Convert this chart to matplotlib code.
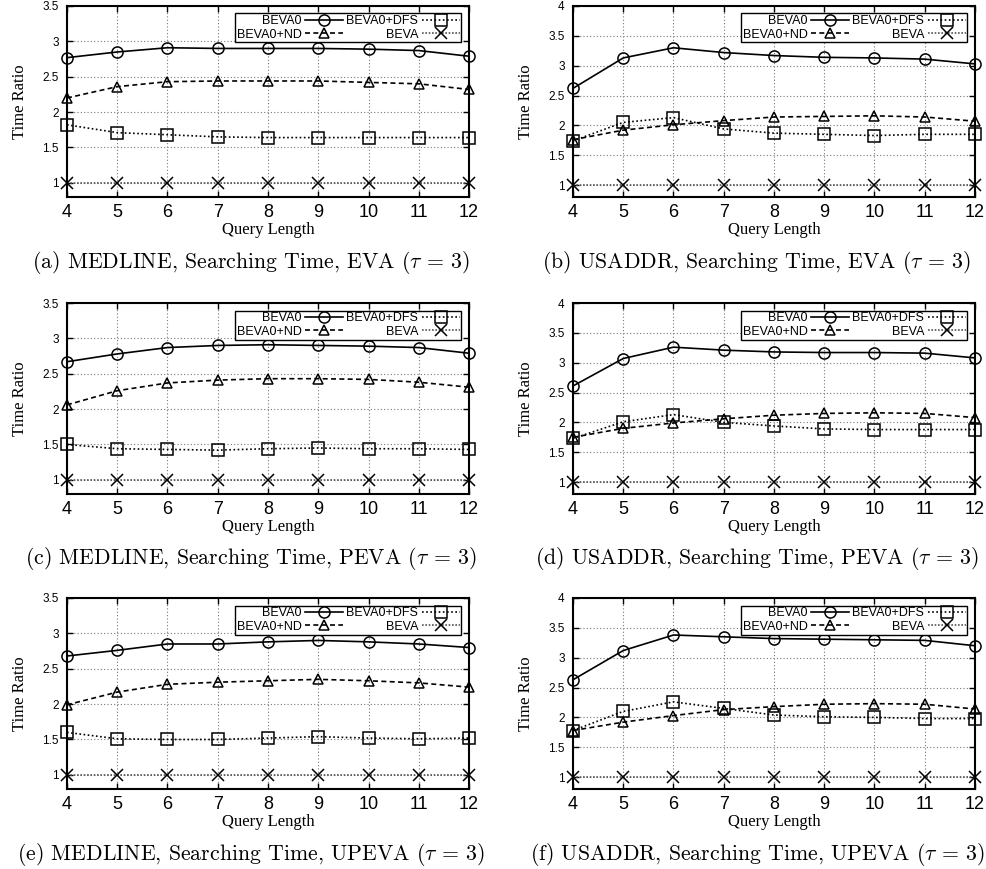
import matplotlib
matplotlib.use('Agg')
import matplotlib.pyplot as plt

query_len = [4, 5, 6, 7, 8, 9, 10, 11, 12]
series_names = ['BEVA0', 'BEVA0+ND', 'BEVA0+DFS', 'BEVA']

# (a) MEDLINE, EVA
a_beva0 = [2.77, 2.85, 2.91, 2.90, 2.90, 2.90, 2.89, 2.87, 2.79]
a_nd    = [2.20, 2.36, 2.43, 2.44, 2.44, 2.44, 2.42, 2.40, 2.32]
a_dfs   = [1.82, 1.71, 1.68, 1.65, 1.64, 1.64, 1.64, 1.64, 1.64]
# (b) USADDR, EVA
b_beva0 = [2.62, 3.13, 3.30, 3.22, 3.17, 3.14, 3.13, 3.11, 3.03]
b_nd    = [1.76, 1.92, 2.01, 2.08, 2.14, 2.15, 2.16, 2.14, 2.07]
b_dfs   = [1.74, 2.05, 2.13, 1.94, 1.87, 1.85, 1.83, 1.85, 1.85]
# (c) MEDLINE, PEVA
c_beva0 = [2.67, 2.78, 2.87, 2.90, 2.91, 2.90, 2.89, 2.87, 2.79]
c_nd    = [2.06, 2.26, 2.37, 2.41, 2.43, 2.43, 2.42, 2.38, 2.31]
c_dfs   = [1.50, 1.44, 1.43, 1.42, 1.44, 1.45, 1.44, 1.44, 1.43]
# (d) USADDR, PEVA
d_beva0 = [2.61, 3.07, 3.26, 3.21, 3.18, 3.17, 3.17, 3.16, 3.08]
d_nd    = [1.75, 1.90, 1.99, 2.06, 2.12, 2.15, 2.16, 2.15, 2.08]
d_dfs   = [1.73, 2.01, 2.13, 2.00, 1.94, 1.89, 1.88, 1.88, 1.88]
# (e) MEDLINE, UPEVA
e_beva0 = [2.68, 2.76, 2.85, 2.85, 2.88, 2.90, 2.88, 2.85, 2.80]
e_nd    = [1.99, 2.17, 2.28, 2.31, 2.33, 2.35, 2.33, 2.30, 2.24]
e_dfs   = [1.60, 1.51, 1.50, 1.50, 1.52, 1.54, 1.52, 1.51, 1.52]
# (f) USADDR, UPEVA
f_beva0 = [2.63, 3.12, 3.38, 3.35, 3.32, 3.31, 3.30, 3.29, 3.20]
f_nd    = [1.78, 1.92, 2.03, 2.13, 2.18, 2.22, 2.23, 2.22, 2.14]
f_dfs   = [1.78, 2.10, 2.26, 2.15, 2.04, 2.01, 2.00, 1.98, 1.98]
beva = [1, 1, 1, 1, 1, 1, 1, 1, 1]

captions = ['(a) MEDLINE, Searching Time, EVA ($\\tau$ = 3)',
            '(b) USADDR, Searching Time, EVA ($\\tau$ = 3)',
            '(c) MEDLINE, Searching Time, PEVA ($\\tau$ = 3)',
            '(d) USADDR, Searching Time, PEVA ($\\tau$ = 3)',
            '(e) MEDLINE, Searching Time, UPEVA ($\\tau$ = 3)',
            '(f) USADDR, Searching Time, UPEVA ($\\tau$ = 3)']
panels = [(a_beva0, a_nd, a_dfs), (b_beva0, b_nd, b_dfs),
          (c_beva0, c_nd, c_dfs), (d_beva0, d_nd, d_dfs),
          (e_beva0, e_nd, e_dfs), (f_beva0, f_nd, f_dfs)]
medline_ticks = [1, 1.5, 2, 2.5, 3, 3.5]
usaddr_ticks = [1, 1.5, 2, 2.5, 3, 3.5, 4]

plt.rcParams['mathtext.fontset'] = 'cm'

W, H = 987, 869
fig = plt.figure(figsize=(W/100, H/100), dpi=100)
lefts = [67, 573]
tops = [6, 303, 598]
aw, ah = 402, 191
cap_x = [251, 757]

styles = [dict(ls='-', marker='o', color='black'),
          dict(ls=(0, (3, 2)), marker='^', color='black'),
          dict(ls=(0, (1, 1.5)), marker='s', color='black'),
          dict(ls=(0, (1, 1)), marker='x', color='#555555')]

for i, (beva0, nd, dfs) in enumerate(panels):
    r, c = divmod(i, 2)
    ax = fig.add_axes([lefts[c]/W, 1 - (tops[r]+ah)/H, aw/W, ah/H])
    ys = [beva0, nd, dfs, beva]
    for k, y in enumerate(ys):
        st = styles[k]
        ax.plot(query_len, y, ls=st['ls'], color=st['color'], lw=1.2,
                marker=st['marker'], ms=8 if st['marker'] != '^' else 7.5,
                mfc='none', mec='black', mew=1.1, label=series_names[k],
                clip_on=False, zorder=3)
    ax.set_xlim(4, 12)
    if c == 0:
        ax.set_ylim(0.8, 3.5)
        ax.set_yticks(medline_ticks)
        ax.set_yticklabels(['1', '1.5', '2', '2.5', '3', '3.5'])
    else:
        ax.set_ylim(0.8, 4)
        ax.set_yticks(usaddr_ticks)
        ax.set_yticklabels(['1', '1.5', '2', '2.5', '3', '3.5', '4'])
    ax.set_xticks(query_len)
    ax.grid(True, ls=(0, (1, 2)), color='#777777', lw=0.8)
    ax.set_axisbelow(True)
    for sp in ax.spines.values():
        sp.set_linewidth(1.5)
    ax.tick_params(direction='in', top=True, right=True, length=4, width=1)
    ax.tick_params(axis='x', labelsize=13, pad=5)
    ax.tick_params(axis='y', labelsize=8.5, pad=6)
    for lab in ax.get_xticklabels() + ax.get_yticklabels():
        lab.set_family('Liberation Sans')
    ax.set_xlabel('Query Length', family='Liberation Serif', fontsize=12, labelpad=1)
    ax.set_ylabel('Time Ratio', family='Liberation Serif', fontsize=12, labelpad=10)
    leg = ax.legend(ncol=2, loc='upper right', markerfirst=False, numpoints=1,
                    prop={'family': 'Liberation Sans', 'size': 9},
                    frameon=True, fancybox=False, edgecolor='black',
                    framealpha=1, handlelength=3.0, handletextpad=0.3,
                    labelspacing=0.1, columnspacing=0.3, borderpad=0.15,
                    borderaxespad=0.6)
    leg.get_frame().set_linewidth(1.0)
    fig.text(cap_x[c]/W, 1 - (tops[r]+256)/H, captions[i], ha='center',
             va='center', family='cmr10', fontsize=15.7)

fig.savefig('out.png', dpi=100)
